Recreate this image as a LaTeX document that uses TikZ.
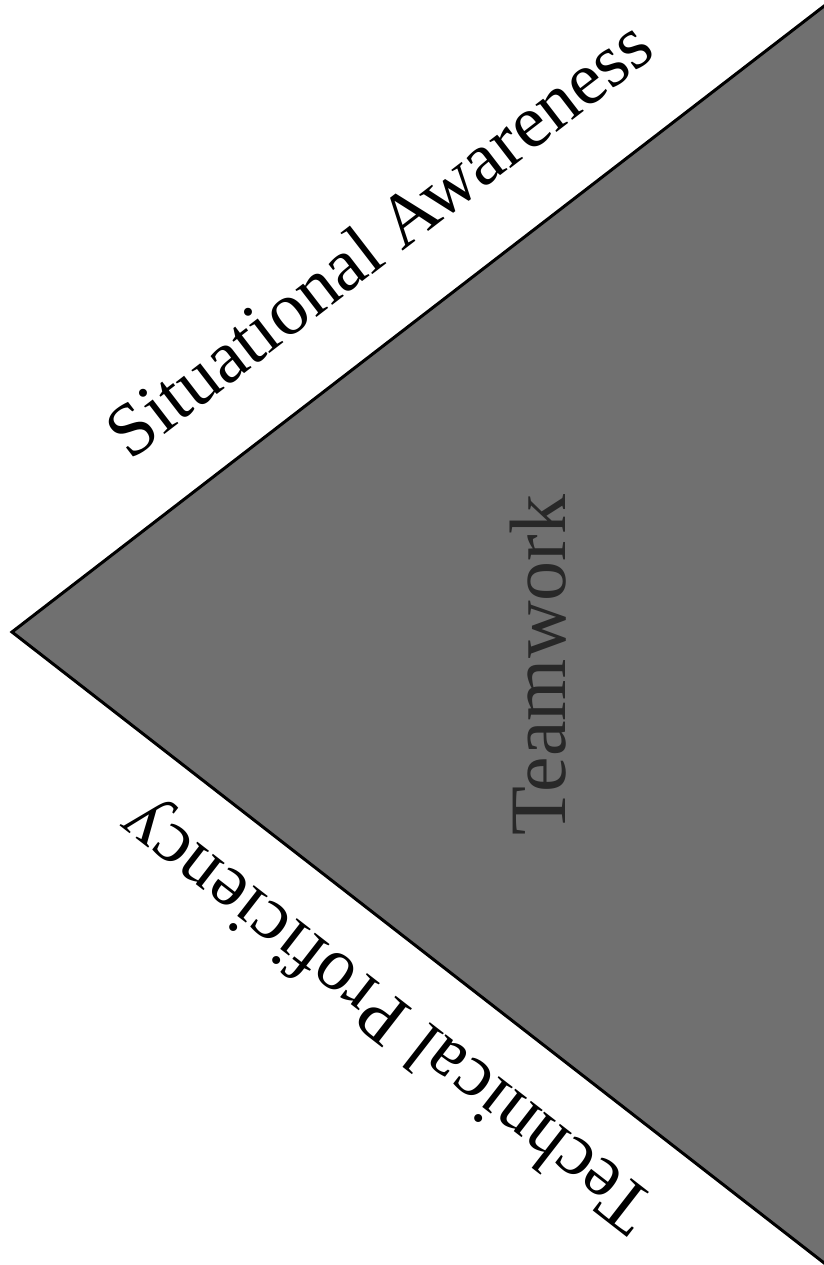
\documentclass[tikz,border=0pt]{standalone}
\usepackage{fontspec}
\setmainfont{Liberation Serif}
\definecolor{wedgegray}{RGB}{112,112,112}
\definecolor{teamgray}{RGB}{40,40,40}
\begin{document}
\begin{tikzpicture}[x=1pt,y=-1pt,
  edgelabel/.style={font=\fontsize{75}{90}\selectfont, text=black, inner sep=0pt, anchor=base},
  centerlabel/.style={font=\fontsize{80}{96}\selectfont, text=teamgray, inner sep=0pt, anchor=base},
  wedge/.style={draw=black, line width=3pt, line join=miter, fill=wedgegray}]
\useasboundingbox (0,0) rectangle (823,1265);
\coordinate (L) at (12,632);
\coordinate (T) at (828,3);
\coordinate (B) at (828,1266);
\path[wedge] (L) -- (T) -- (B) -- cycle;
\node[edgelabel, rotate=37.6] (sa) at (394,258) {Situational Awareness};
\node[edgelabel, rotate=142.15] (tp) at (400,999) {Technical Proficiency};
\node[centerlabel, rotate=90] (tw) at (565,665) {Teamwork};
\end{tikzpicture}
\end{document}
